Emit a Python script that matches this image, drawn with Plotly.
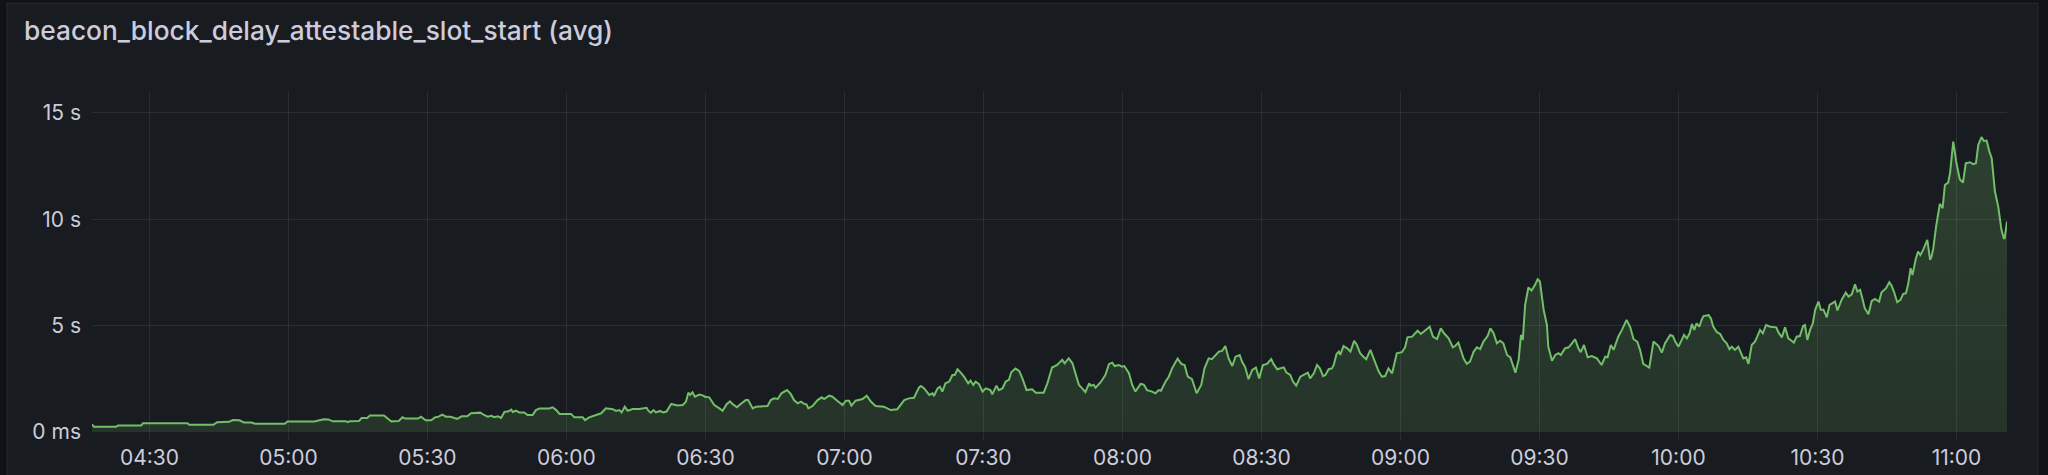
import plotly.graph_objects as go
import pandas as pd

# Grafana dark theme colours
PAGE_BG = '#111217'
PANEL_BG = '#181b1f'
PANEL_BORDER = 'rgba(204,204,220,0.10)'
GRID = 'rgba(204,204,220,0.10)'
TEXT = '#ccccdc'
GREEN = '#73bf69'

TITLE = 'beacon_block_delay_attestable_slot_start (avg)'

# minutes after 04:30
minutes = [
    -12.4, -12.0, -7.2, -6.8, -1.8, -1.4, 8.2, 8.6, 13.8, 14.6, 17.2, 18.0, 19.4, 20.4,
    22.0, 22.8, 29.2, 29.8, 35.6, 36.4, 37.6, 38.6, 39.6, 42.4, 42.8, 43.2, 45.2, 45.8,
    47.0, 47.6, 50.6, 51.6, 52.2, 53.8, 54.6, 55.2, 58.0, 58.6, 59.6, 60.8, 61.6, 62.4,
    63.2, 64.0, 65.0, 65.8, 66.4, 67.4, 68.6, 69.4, 71.4, 72.2, 73.0, 73.8, 74.4, 75.2,
    75.9, 76.6, 77.5, 78.1,
    78.4, 79.1, 79.8, 80.9, 81.6, 82.7, 83.4, 84.2, 86.3, 87.0, 87.8, 88.5, 91.0, 91.7,
    93.5, 94.0, 94.9, 96.4, 97.5, 98.5, 100.0, 100.7, 101.4, 101.9, 102.6, 103.2, 104.3,
    105.7, 106.4, 107.3, 107.7, 108.2, 108.8, 109.3, 110.2, 110.8, 111.6, 112.6, 114.0,
    115.1, 115.8, 116.3, 116.7, 117.2, 117.7, 118.7, 119.4, 119.9, 120.8, 121.9, 123.0,
    123.7, 124.6, 125.3, 125.8, 126.8, 127.6, 128.7, 129.2, 130.2, 130.9, 133.4, 134.1,
    134.8, 135.6, 136.4, 137.6, 138.4, 139.1, 139.9, 140.6, 141.3, 141.8, 142.2, 143.1,
    144.2, 145.1, 145.6, 146.7, 147.4, 148.5, 149.6, 150.3, 151.0, 151.5, 152.4, 153.9,
    154.8, 155.7, 156.7, 158.5, 160.0, 161.4, 162.9, 163.9, 165.0, 166.1,
    166.5, 167.2, 168.3, 169.0, 169.3, 170.1, 170.6, 171.1, 171.8, 172.6, 173.3, 173.8,
    174.4, 175.1, 175.8, 176.7, 177.2, 177.8, 178.3, 179.0, 179.8, 180.5, 181.5, 181.9,
    182.8, 183.3, 184.1, 184.8, 185.5, 186.0, 186.9, 187.7, 188.4, 189.3, 190.5, 191.3,
    193.0, 193.8, 194.8, 195.9, 197.0, 197.5, 198.4, 199.2, 199.9, 200.6, 201.3, 202.0,
    202.8, 203.1, 203.8, 204.2, 205.3, 206.3, 207.1, 207.8, 208.3, 209.2, 209.9, 210.4,
    211.4, 212.1, 212.8, 213.9, 214.6, 215.3, 216.4, 217.1, 217.8, 218.3, 219.3, 220.0,
    220.7, 221.4, 221.9, 222.7, 223.4, 224.1, 225.0, 226.0, 227.0, 227.7, 228.6, 229.3,
    229.8, 230.8, 231.5, 232.2, 232.9, 233.7, 234.4, 235.3, 235.8, 236.5, 237.2, 238.0,
    238.8, 239.5, 240.3, 241.2, 242.1, 242.6, 243.4, 244.2, 244.8, 245.4, 246.2, 246.8,
    247.5, 248.4, 249.5, 250.0, 250.5,
    251.3, 252.0, 252.6, 253.3, 253.8, 254.5, 255.2, 255.6, 256.2, 256.7, 257.0, 257.7,
    258.5, 259.2, 260.0, 260.6, 261.3, 262.0, 262.6, 263.5, 264.2, 265.3, 266.0, 266.7,
    267.4, 268.2, 269.2, 270.3, 271.0, 271.5, 272.5, 273.2, 273.7, 274.4, 275.4, 276.3,
    277.0, 277.9, 278.7, 279.4, 280.4, 281.3, 281.8, 282.5, 283.6, 284.3, 285.0, 285.8,
    286.5, 287.2, 287.9, 288.8, 289.4, 290.1, 290.8, 291.5, 292.2, 293.0, 293.7, 294.8,
    295.5, 296.0, 296.4, 296.9, 297.6, 298.3, 299.1, 299.6, 300.1, 300.9, 301.6, 301.9,
    302.7, 303.4, 304.1, 304.6, 305.5, 306.3, 307.0, 307.7, 308.4, 308.9, 309.6, 310.4,
    311.3, 312.4, 313.4, 314.2, 314.7, 315.4, 316.0, 317.0, 317.8, 318.8, 319.6, 320.3,
    321.1, 321.7, 322.4, 323.1, 323.7, 324.6, 325.7, 326.4, 327.1, 328.2,
    328.8, 329.3, 330.0, 330.7, 331.2, 331.8, 332.4, 332.9, 333.4, 333.9, 334.5, 335.0,
    335.4, 336.5, 337.0, 337.5, 338.3, 339.0, 339.7, 340.4, 341.0, 341.5, 342.2, 342.9,
    343.4, 344.0, 344.6, 345.1, 345.8, 346.5, 347.0, 347.6, 348.2, 348.9, 349.8, 351.1,
    351.6, 352.3, 353.0, 353.7, 354.4, 354.9, 355.5, 356.2, 356.9, 357.3, 357.8, 358.4,
    359.0, 359.5, 360.2, 360.7, 361.3, 362.0, 362.6, 363.3, 363.8, 364.3, 365.2, 366.1,
    366.7, 367.4, 368.1, 368.6, 369.2, 369.5, 370.2, 371.0, 371.7, 372.4, 373.3, 373.8,
    374.8, 375.5, 376.0, 376.5, 377.2, 377.9, 378.5, 379.1, 379.6, 380.1, 380.5, 381.2,
    381.7, 382.2, 382.8, 383.7, 384.3, 384.6, 385.0, 385.6, 386.4, 387.0, 387.5, 388.2,
    388.6, 389.3, 390.0, 390.7, 391.4, 392.0, 392.9, 393.6, 394.2, 394.7, 395.4, 395.9,
    396.5, 397.1, 397.6, 398.3, 399.0, 399.7, 400.2, 400.4, 400.9,
]

# seconds
delay_s = [
    0.36, 0.25, 0.25, 0.30, 0.30, 0.41, 0.41, 0.34, 0.34, 0.46, 0.48, 0.56, 0.55, 0.45,
    0.45, 0.39, 0.39, 0.49, 0.49, 0.54, 0.60, 0.59, 0.50, 0.50, 0.46, 0.50, 0.52, 0.66,
    0.66, 0.78, 0.78, 0.60, 0.50, 0.52, 0.69, 0.63, 0.63, 0.72, 0.55, 0.55, 0.68, 0.72,
    0.82, 0.72, 0.72, 0.66, 0.62, 0.74, 0.74, 0.88, 0.91, 0.80, 0.72, 0.76, 0.70, 0.74,
    0.66, 0.94, 0.97, 1.05,
    0.94, 1.00, 0.92, 0.92, 0.80, 0.80, 1.03, 1.11, 1.11, 1.16, 1.03, 0.85, 0.85, 0.69,
    0.69, 0.56, 0.69, 0.80, 0.88, 1.11, 1.07, 0.99, 1.03, 0.92, 1.19, 1.00, 1.08,
    1.08, 1.11, 1.14, 0.99, 0.91, 1.03, 0.92, 0.99, 0.92, 0.96, 1.32, 1.25,
    1.27, 1.43, 1.85, 1.74, 1.87, 1.66, 1.76, 1.72, 1.66, 1.63, 1.27, 1.11,
    1.00, 1.32, 1.44, 1.32, 1.16, 1.32, 1.50, 1.50, 1.11, 1.19, 1.22, 1.50,
    1.58, 1.55, 1.82, 1.97, 1.79, 1.50, 1.35, 1.43, 1.32, 1.30, 1.11, 1.22,
    1.50, 1.63, 1.55, 1.71, 1.66, 1.46, 1.27, 1.47, 1.47, 1.24, 1.47, 1.55,
    1.71, 1.43, 1.22, 1.19, 1.03, 1.07, 1.50, 1.58, 1.61, 2.10,
    2.16, 2.05, 1.74, 1.82, 1.69, 2.05, 2.13, 1.90, 2.29, 2.37, 2.68, 2.68,
    2.95, 2.79, 2.60, 2.29, 2.41, 2.21, 2.37, 2.26, 1.90, 2.05, 1.97, 1.77,
    2.18, 1.97, 2.05, 2.37, 2.45, 2.81, 2.98, 2.87, 2.52, 1.97, 2.01, 1.85,
    1.85, 2.29, 3.03, 3.15, 3.39, 3.23, 3.46, 3.23, 2.68, 2.21, 2.05, 1.87,
    2.29, 2.18, 2.21, 2.08, 2.34, 2.68, 3.20, 3.26, 3.10, 3.15, 3.07, 3.10,
    2.76, 2.21, 1.90, 2.26, 2.23, 1.97, 1.90, 1.82, 1.97, 1.94, 2.37, 2.60,
    2.99, 3.29, 3.45, 3.20, 3.15, 2.60, 2.48, 1.82, 2.21, 2.99, 3.46, 3.42,
    3.54, 3.78, 3.81, 4.04, 3.46, 3.10, 3.54, 3.62, 3.31, 3.04, 2.48, 2.92,
    3.03, 2.52, 3.15, 3.20, 3.43, 3.20, 2.95, 2.99, 3.04, 2.79, 2.68, 2.37,
    2.18, 2.60, 2.71, 2.79, 2.52,
    2.76, 3.15, 2.99, 2.63, 2.68, 2.95, 2.99, 3.15, 3.67, 3.78, 3.62, 4.04,
    3.93, 3.78, 4.29, 4.09, 3.70, 3.54, 3.42, 3.86, 3.46, 2.84, 2.60, 2.63,
    2.99, 2.76, 3.70, 3.75, 3.98, 4.45, 4.48, 4.64, 4.76, 4.61, 4.80, 4.95,
    4.48, 4.37, 4.87, 4.64, 4.40, 3.98, 4.04, 4.20, 3.46, 3.20, 3.31, 3.78,
    3.98, 3.90, 4.25, 4.51, 4.87, 4.64, 4.17, 4.29, 4.17, 3.62, 3.51, 2.79,
    3.39, 4.56, 4.33, 5.97, 6.79, 6.65, 6.94, 7.18, 7.07, 5.74, 5.03, 4.01,
    3.35, 3.62, 3.70, 3.62, 3.93, 3.98, 4.17, 4.36, 3.93, 3.75, 4.09, 3.51,
    3.57, 3.46, 3.15, 3.54, 3.51, 4.09, 3.86, 4.48, 4.80, 5.27, 4.92, 4.36,
    4.25, 3.86, 3.20, 3.10, 3.03, 4.25, 4.04, 3.73, 4.17, 4.56,
    4.51, 4.25, 4.01, 4.33, 4.56, 4.40, 4.64, 5.08, 4.80, 5.11, 4.95, 5.27,
    5.45, 5.49, 5.34, 4.95, 4.69, 4.61, 4.33, 4.17, 3.89, 4.01, 3.86, 4.01,
    3.78, 3.46, 3.51, 3.20, 4.09, 4.25, 4.48, 4.80, 4.64, 5.03, 4.95, 4.92,
    4.67, 4.45, 4.92, 4.40, 4.29, 4.20, 4.48, 4.51, 4.98, 5.03, 4.33, 4.80,
    5.11, 5.74, 6.13, 5.74, 5.74, 5.39, 5.97, 6.08, 6.13, 5.71, 6.21, 6.55,
    6.36, 6.47, 6.94, 6.60, 6.68, 6.44, 5.82, 5.53, 6.16, 6.25, 6.13, 6.55,
    6.76, 7.04, 6.87, 6.60, 6.10, 6.21, 6.49, 6.52, 6.99, 7.70, 7.38, 8.12,
    8.48, 8.32, 8.56, 9.03, 8.09, 8.24, 8.64, 9.66, 10.72, 10.52, 11.61, 11.72,
    12.16, 13.65, 12.63, 11.88, 11.72, 12.63, 12.68, 12.59, 12.63, 13.50, 13.86, 13.68,
    13.70, 13.18, 12.87, 11.30, 10.60, 9.50, 9.11, 9.11, 9.89,
]

y_ticks = [0, 5, 10, 15]
y_tick_labels = ['0 ms', '5 s', '10 s', '15 s']
x_tick_labels = ['04:30', '05:00', '05:30', '06:00', '06:30', '07:00', '07:30',
                 '08:00', '08:30', '09:00', '09:30', '10:00', '10:30', '11:00']

DAY = '2024-01-01 '
base = pd.Timestamp(DAY + '04:30')
times = base + pd.to_timedelta(minutes, unit='min')
x_ticks = [pd.Timestamp(DAY + t) for t in x_tick_labels]

# figure geometry (pixels)
W, H = 2048, 475
PLOT_L, PLOT_R, PLOT_T, PLOT_B = 92, 2007, 92, 432


def px_x(px):
    return (px - PLOT_L) / (PLOT_R - PLOT_L)


def px_y(py):
    return (PLOT_B - py) / (PLOT_B - PLOT_T)


fig = go.Figure()

fig.add_trace(go.Scatter(
    x=times,
    y=delay_s,
    mode='lines',
    line=dict(color=GREEN, width=2),
    fill='tozeroy',
    fillgradient=dict(
        type='vertical',
        start=0,
        stop=16,
        colorscale=[[0, 'rgba(115,191,105,0.15)'], [1, 'rgba(115,191,105,0.24)']],
    ),
    hoverinfo='skip',
    showlegend=False,
))

# panel background
fig.add_shape(
    type='rect', xref='paper', yref='paper', layer='below',
    x0=px_x(7), x1=px_x(2038), y0=px_y(490), y1=px_y(3),
    fillcolor=PANEL_BG, line=dict(color=PANEL_BORDER, width=1),
)

fig.update_layout(
    width=W,
    height=H,
    margin=dict(l=PLOT_L, r=W - PLOT_R, t=PLOT_T, b=H - PLOT_B, pad=0),
    paper_bgcolor=PAGE_BG,
    plot_bgcolor='rgba(0,0,0,0)',
    font=dict(family='Inter, Roboto, sans-serif', size=21, color=TEXT),
    title=dict(
        text=TITLE,
        x=24 / W, xref='container', xanchor='left',
        y=1 - 31 / H, yref='container', yanchor='middle',
        font=dict(size=26.3, color=TEXT, weight=500),
    ),
    showlegend=False,
)

fig.update_xaxes(
    range=[times[0], times[-1]],
    tickvals=x_ticks,
    ticktext=x_tick_labels,
    showgrid=True,
    gridcolor=GRID,
    gridwidth=1,
    ticks='outside',
    ticklen=7,
    tickcolor=GRID,
    ticklabelstandoff=0,
    showline=False,
    zeroline=False,
    automargin=False,
)

fig.update_yaxes(
    range=[0, 15.98],
    tickvals=y_ticks,
    ticktext=y_tick_labels,
    showgrid=True,
    gridcolor=GRID,
    gridwidth=1,
    ticks='',
    ticklabelstandoff=10,
    showline=False,
    zeroline=False,
    automargin=False,
)

# the page's default body margin would push the figure 8px right and down
fig.write_html(
    'out.html',
    config={'displayModeBar': False},
    post_script="document.body.style.margin='0';"
                "document.body.style.background='#111217';",
)
